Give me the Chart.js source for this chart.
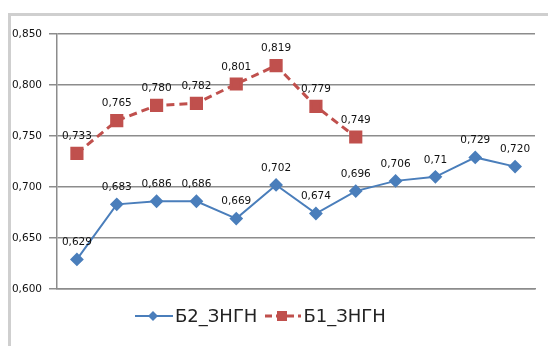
<!DOCTYPE html>
<html>
<head>
<meta charset="utf-8">
<script src="https://cdn.jsdelivr.net/npm/chart.js@4/dist/chart.umd.min.js"></script>
<style>
  html, body { margin: 0; background: #fff; overflow: hidden; }
  #wrap { position: relative; width: 548px; height: 346px; overflow: hidden; }
  #frameLeft { position: absolute; left: 8px; top: 13px; width: 3px; height: 340px; background: #cfcfcf; }
  #frameTop { position: absolute; left: 8px; top: 13px; width: 560px; height: 3px; background: #cfcfcf; }
  canvas { position: absolute; left: 0; top: 0; }
  #legend { position: absolute; left: 135px; top: 305px; display: flex; align-items: center;
            font: 18px "DejaVu Sans", sans-serif; color: #222; white-space: nowrap; }
  #legend .item { display: flex; align-items: center; margin-right: 8px; }
  #legend svg { margin-right: 2px; }
</style>
</head>
<body>
<div id="wrap">
  <div id="frameLeft"></div>
  <div id="frameTop"></div>
  <canvas id="chart" width="548" height="346"></canvas>
  <div id="legend">
    <span class="item">
      <svg width="38" height="14"><line x1="0" y1="7" x2="38" y2="7" stroke="#4a7ebb" stroke-width="2"/><polygon points="18,2 23,7 18,12 13,7" fill="#4a7ebb"/></svg>
      <span>Б2_ЗНГН</span>
    </span>
    <span class="item">
      <svg width="36" height="14"><line x1="0" y1="7" x2="36" y2="7" stroke="#c0504d" stroke-width="3" stroke-dasharray="7,4"/><rect x="12" y="2" width="10" height="10" fill="#c0504d"/></svg>
      <span>Б1_ЗНГН</span>
    </span>
  </div>
</div>
<script>
// ---- data ----
const categories = ["1", "2", "3", "4", "5", "6", "7", "8", "9", "10", "11", "12"];
const b2Values = [0.629, 0.683, 0.686, 0.686, 0.669, 0.702, 0.674, 0.696, 0.706, 0.71, 0.729, 0.720];
const b2Text = ["0,629", "0,683", "0,686", "0,686", "0,669", "0,702", "0,674", "0,696", "0,706", "0,71", "0,729", "0,720"];
const b1Values = [0.733, 0.765, 0.780, 0.782, 0.801, 0.819, 0.779, 0.749];
const b1Text = ["0,733", "0,765", "0,780", "0,782", "0,801", "0,819", "0,779", "0,749"];
const yTicks = [0.600, 0.650, 0.700, 0.750, 0.800, 0.850];

const gridColor = "#8c8c8c";
const labelFont = "10.5px 'DejaVu Sans', sans-serif";

// value labels above each point
const pointLabels = {
  id: "pointLabels",
  afterDatasetsDraw(chart) {
    const { ctx } = chart;
    ctx.save();
    ctx.font = labelFont;
    ctx.fillStyle = "#111";
    ctx.textAlign = "center";
    ctx.textBaseline = "middle";
    chart.data.datasets.forEach((ds, i) => {
      const meta = chart.getDatasetMeta(i);
      meta.data.forEach((pt, j) => {
        ctx.fillText(ds.pointText[j], pt.x, pt.y - 17);
      });
    });
    ctx.restore();
  }
};

const ctx = document.getElementById("chart").getContext("2d");
const chart = new Chart(ctx, {
  type: "line",
  data: {
    labels: categories,
    datasets: [
      {
        label: "Б2_ЗНГН",
        data: b2Values,
        pointText: b2Text,
        borderColor: "#4a7ebb",
        backgroundColor: "#4a7ebb",
        borderWidth: 2,
        pointStyle: "rectRot",
        pointRadius: 5.5,
        pointHoverRadius: 5.5,
        tension: 0
      },
      {
        label: "Б1_ЗНГН",
        data: b1Values,
        pointText: b1Text,
        borderColor: "#c0504d",
        backgroundColor: "#c0504d",
        borderWidth: 3,
        borderDash: [8, 5],
        pointStyle: "rect",
        pointRadius: 7.2,
        pointHoverRadius: 7.2,
        tension: 0
      }
    ]
  },
  options: {
    responsive: false,
    animation: false,
    layout: { padding: { top: 34, right: 13, bottom: 49, left: 0 } },
    plugins: {
      legend: { display: false },
      tooltip: { enabled: false }
    },
    scales: {
      x: {
        offset: true,
        grid: { display: false },
        ticks: { display: false },
        border: { display: true, color: gridColor, width: 1.5 }
      },
      y: {
        min: 0.6,
        max: 0.85,
        afterFit(scale) { scale.width = 57; },
        afterBuildTicks(scale) { scale.ticks = yTicks.map(v => ({ value: v })); },
        ticks: {
          padding: 7,
          color: "#111",
          font: { family: "'DejaVu Sans', sans-serif", size: 10.5 },
          callback: v => v.toFixed(3).replace(".", ",")
        },
        grid: { color: gridColor, lineWidth: 1.5, tickLength: 8 },
        border: { display: true, color: gridColor, width: 1.5 }
      }
    }
  },
  plugins: [pointLabels]
});
</script>
</body>
</html>
